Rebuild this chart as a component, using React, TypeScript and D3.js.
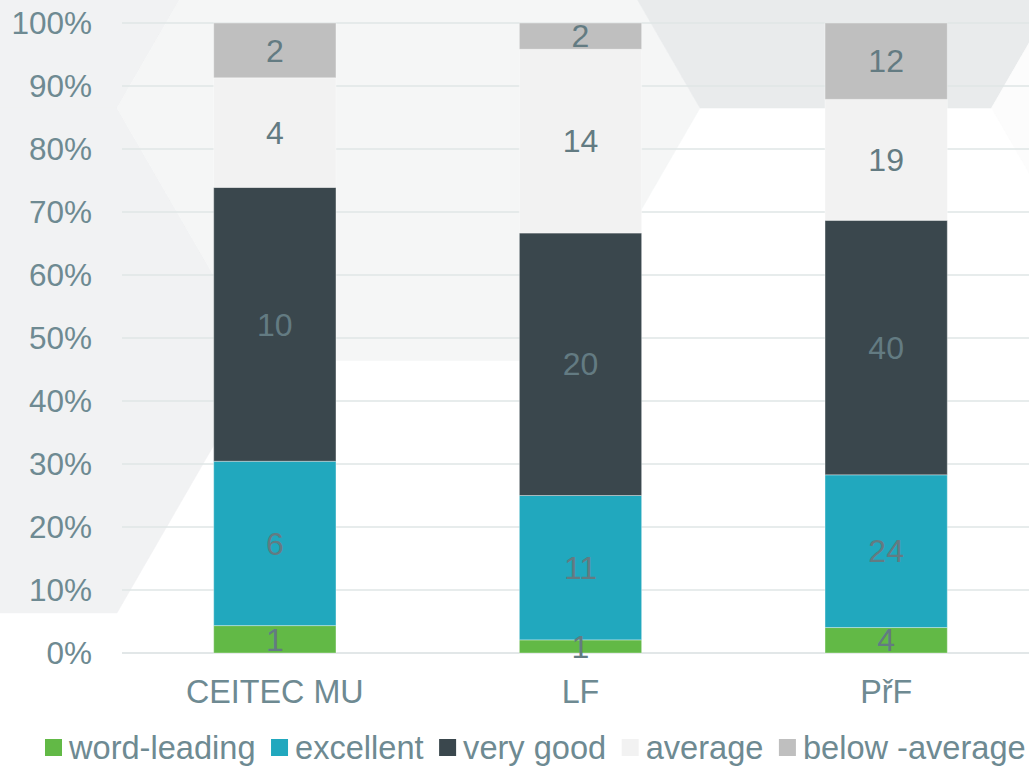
import * as d3 from "d3";
import React from "react";

// categories and raw counts per rating level
const categories = ["CEITEC MU", "LF", "PřF"];
const seriesNames = ["word-leading", "excellent", "very good", "average", "below -average"];
const wordLeading = [1, 1, 4];
const excellent = [6, 11, 24];
const veryGood = [10, 20, 40];
const average = [4, 14, 19];
const belowAverage = [2, 2, 12];
const yTickValues = [0, 0.1, 0.2, 0.3, 0.4, 0.5, 0.6, 0.7, 0.8, 0.9, 1];

const seriesColors = ["#62b946", "#21a8be", "#3a474d", "#f2f2f2", "#bfbfbf"];

// honeycomb decoration in the background (grid steps from one anchor tile)
const hexSide = 291.5;
const hexAnchor = [408.5, 108];
const hexTiles = [
  { col: -1, row: 1, fill: "#f1f2f3" },
  { col: -1, row: -1, fill: "#f1f2f3" },
  { col: 0, row: 0, fill: "#f5f6f6" },
  { col: 1, row: -1, fill: "#e9ebec" },
  { col: 2, row: 0, fill: "#fcfcfc" },
];

const FONT = "'Liberation Sans', Arial, sans-serif";
const textColor = "#6e8a92";
const labelColor = "#637b82";

function hexPath(cx: number, cy: number, s: number) {
  const h = (s * Math.sqrt(3)) / 2;
  const pts: [number, number][] = [
    [cx - s, cy],
    [cx - s / 2, cy - h],
    [cx + s / 2, cy - h],
    [cx + s, cy],
    [cx + s / 2, cy + h],
    [cx - s / 2, cy + h],
  ];
  return d3.line()(pts) + "Z";
}

function measure(text: string, size: number) {
  const ctx = document.createElement("canvas").getContext("2d");
  if (!ctx) return text.length * size * 0.5;
  ctx.font = `${size}px 'Liberation Sans', Arial, sans-serif`;
  return ctx.measureText(text).width;
}

export default function App() {
  const width = 1029;
  const height = 767;
  const marginLeft = 122;
  const top = 23;
  const bottom = 653;

  const rows = categories.map((c, i) => {
    const r: Record<string, number | string> = { category: c };
    const vals = [wordLeading[i], excellent[i], veryGood[i], average[i], belowAverage[i]];
    seriesNames.forEach((s, j) => (r[s] = vals[j]));
    return r;
  });

  const stacked = d3
    .stack<Record<string, number | string>>()
    .keys(seriesNames)
    .value((d, key) => d[key] as number)
    .offset(d3.stackOffsetExpand)(rows);

  const x = d3
    .scaleBand<string>()
    .domain(categories)
    .range([marginLeft, marginLeft + 917])
    .paddingInner(0.6)
    .paddingOuter(0.3);
  const y = d3.scaleLinear([0, 1], [bottom, top]);

  const legendSize = 32.6;
  const legendItems = React.useMemo(() => {
    let cursor = 45;
    return seriesNames.map((name, i) => {
      const item = { name, color: seriesColors[i], x: cursor };
      cursor += 24 + measure(name, legendSize) + 15.5;
      return item;
    });
  }, []);

  const hexH = (hexSide * Math.sqrt(3)) / 2;

  return (
    <svg
      width={width}
      height={height}
      style={{ position: "absolute", left: 0, top: 0, background: "#fff" }}
      fontFamily={FONT}
    >
      {/* background hexagons */}
      {hexTiles.map((t, i) => (
        <path
          key={i}
          d={hexPath(hexAnchor[0] + t.col * 1.5 * hexSide, hexAnchor[1] + t.row * hexH, hexSide)}
          fill={t.fill}
          stroke={t.fill}
          strokeWidth={0.6}
        />
      ))}

      {/* grid + y axis */}
      <g fontSize={31.5} fill={textColor} textAnchor="end">
        {yTickValues.map((v) => (
          <g key={v}>
            <line
              x1={marginLeft}
              x2={width}
              y1={y(v)}
              y2={y(v)}
              stroke={v === 0 ? "#d9dfe0" : "#dfe6e6"}
              strokeWidth={1.5}
            />
            <text x={92} y={y(v)} dy="0.35em">
              {d3.format(".0%")(v)}
            </text>
          </g>
        ))}
      </g>

      {/* stacked bars */}
      {stacked.map((layer, i) => (
        <g key={layer.key} fill={seriesColors[i]}>
          {layer.map((d, j) => (
            <rect
              key={j}
              x={x(categories[j])}
              y={y(d[1])}
              width={x.bandwidth()}
              height={y(d[0]) - y(d[1])}
              stroke="rgba(255,255,255,0.35)"
              strokeWidth={1}
            />
          ))}
        </g>
      ))}

      {/* value labels */}
      <g fontSize={32} fill={labelColor} textAnchor="middle">
        {stacked.map((layer) =>
          layer.map((d, j) => (
            <text
              key={layer.key + j}
              x={(x(categories[j]) ?? 0) + x.bandwidth() / 2}
              y={(y(d[0]) + y(d[1])) / 2}
              dy="0.35em"
            >
              {d.data[layer.key]}
            </text>
          ))
        )}
      </g>

      {/* x axis labels */}
      <g fontSize={32.3} fill={textColor} textAnchor="middle">
        {categories.map((c) => (
          <text key={c} x={(x(c) ?? 0) + x.bandwidth() / 2} y={703}>
            {c}
          </text>
        ))}
      </g>

      {/* legend */}
      <g fontSize={legendSize} fill={textColor}>
        {legendItems.map((it) => (
          <g key={it.name}>
            <rect x={it.x} y={739} width={17} height={17} fill={it.color} />
            <text x={it.x + 24} y={747.5} dy="0.35em">
              {it.name}
            </text>
          </g>
        ))}
      </g>
    </svg>
  );
}
